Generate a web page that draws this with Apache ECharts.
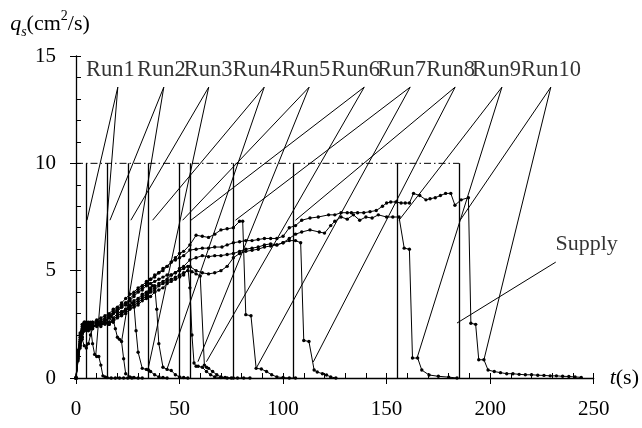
<!DOCTYPE html>
<html>
<head>
<meta charset="utf-8">
<script src="https://cdn.jsdelivr.net/npm/echarts@6/dist/echarts.min.js"></script>
<style>html,body{margin:0;padding:0;background:#fff}#c{width:642px;height:428px}</style>
</head>
<body>
<div id="c"></div>
<script>
// ---- data (t in s, qs in cm2/s) ----
const xTicks = [0, 50, 100, 150, 200, 250];
const yTicks = [0, 5, 10, 15];
const supplyRate = 10;
const supplyEnd = [5, 15, 25, 35, 50, 55, 76, 105, 155, 185];
const runNames = ['Run1','Run2','Run3','Run4','Run5','Run6','Run7','Run8','Run9','Run10'];

const run1 = [[0,0],[1,1.3],[2,2.1],[3,2.5],[4,2.6],[5,2.5],[6,2.5],[7,2.4],[8,1.6],[9,1.1],[10,1.0],[11,1.0],[12,0.6],[13,0.1],[14,0.05],[15,0.02],[17,0],[19,0],[21,0],[23,0],[25,0],[27,0]];
const run2 = [[0,0],[1,0.8],[2,1.4],[3,1.8],[4,1.5],[5,1.4],[6,1.6],[7,2.0],[8,2.3],[10,2.5],[12,2.6],[14,2.7],[16,2.8],[17,2.9],[18,2.7],[19,2.3],[20,1.9],[21,1.8],[22,1.7],[23,0.9],[24,0.2],[26,0.05],[28,0.02],[30,0],[32,0]];
const run3 = [[0,0],[1,1.0],[2,1.7],[3,2.2],[4,2.4],[5,2.3],[6,2.2],[7,2.3],[8,2.4],[10,2.5],[12,2.6],[14,2.7],[16,2.8],[18,3.0],[20,3.1],[22,3.3],[24,3.4],[26,3.6],[27,3.5],[28,3.4],[29,2.2],[30,1.2],[32,0.45],[34,0.4],[35,0.37],[36,0.3],[38,0.15],[40,0.05],[42,0.02],[44,0]];
const run4 = [[0,0],[1,0.9],[2,1.5],[3,1.9],[4,2.2],[5,2.4],[6,2.5],[7,2.4],[8,2.5],[10,2.4],[12,2.5],[14,2.6],[16,2.5],[18,2.8],[20,3.0],[22,3.1],[24,3.2],[26,3.4],[28,3.6],[30,3.7],[32,3.9],[34,4.0],[36,4.2],[37,4.3],[38,4.3],[39,3.2],[40,1.6],[42,0.5],[44,0.4],[46,0.35],[48,0.15],[50,0.05],[52,0.02],[54,0]];
const run5 = [[0,0],[1,1.1],[2,1.8],[3,2.2],[4,2.5],[5,2.6],[6,2.5],[7,2.4],[8,2.5],[10,2.6],[12,2.6],[14,2.7],[16,2.6],[18,3.0],[20,3.2],[22,3.3],[24,3.5],[26,3.6],[28,3.8],[30,4.0],[32,4.1],[34,4.3],[36,4.4],[38,4.5],[40,4.6],[42,4.7],[44,4.8],[46,4.8],[48,4.9],[50,5.0],[52,5.1],[54,5.2],[55,4.2],[56,2.0],[57,0.7],[58,0.55],[59,0.55],[61,0.5],[63,0.3],[65,0.15],[67,0.05],[70,0.02],[73,0],[76,0]];
const run6 = [[0,0],[1,1.0],[2,1.6],[3,2.1],[4,2.3],[5,2.4],[6,2.3],[7,2.4],[8,2.3],[10,2.5],[12,2.4],[14,2.6],[16,2.5],[18,2.7],[20,2.9],[22,3.0],[24,3.1],[26,3.3],[28,3.4],[30,3.5],[32,3.7],[34,3.8],[36,4.0],[38,4.1],[40,4.3],[42,4.4],[44,4.5],[46,4.6],[48,4.7],[50,4.8],[52,4.9],[54,5.0],[56,4.95],[58,4.85],[60,4.75],[62,0.6],[63,0.5],[64,0.45],[66,0.3],[68,0.15],[70,0.05],[72,0.02],[75,0],[78,0],[81,0],[84,0]];
const run7 = [[0,0],[1,1.2],[2,2.0],[3,2.4],[4,2.6],[5,2.5],[6,2.6],[7,2.5],[8,2.6],[10,2.6],[12,2.7],[14,2.8],[16,2.9],[18,3.1],[20,3.2],[22,3.4],[24,3.5],[26,3.7],[28,3.9],[30,4.1],[32,4.2],[34,4.4],[36,4.6],[38,4.7],[40,4.9],[42,5.0],[44,5.2],[46,5.4],[48,5.6],[50,5.8],[52,5.9],[55,6.2],[58,6.65],[61,6.6],[64,6.55],[67,6.7],[70,6.9],[73,6.95],[76,7.0],[79,7.3],[80.5,7.3],[82,2.95],[84.5,2.9],[87,0.45],[89.5,0.42],[92,0.3],[94.5,0.15],[97,0.05],[100,0.02],[103,0],[106,0]];
const run8 = [[0,0],[1,0.9],[2,1.5],[3,1.9],[4,2.2],[5,2.3],[6,2.4],[7,2.5],[8,2.4],[10,2.5],[12,2.5],[14,2.6],[16,2.5],[18,2.7],[20,2.9],[22,3.0],[24,3.2],[26,3.3],[28,3.5],[30,3.6],[32,3.8],[34,3.9],[36,4.1],[38,4.2],[40,4.4],[42,4.5],[44,4.6],[46,4.8],[48,4.9],[50,5.1],[52,5.2],[55,5.5],[58,5.6],[61,5.7],[64,5.65],[67,5.7],[70,5.7],[73,5.75],[76,5.8],[79,5.9],[82,6.0],[85,6.05],[88,6.1],[91,6.2],[94,6.25],[97,6.2],[100,6.3],[103,6.4],[106,6.4],[108.5,6.3],[110,1.75],[112.5,1.7],[115,0.37],[116.5,0.28],[119,0.2],[121,0.14],[123,0.05],[125.5,0]];
const run9 = [[0,0],[1,1.0],[2,1.7],[3,2.1],[4,2.4],[5,2.5],[6,2.4],[7,2.3],[8,2.4],[10,2.5],[12,2.5],[14,2.5],[16,2.6],[18,2.6],[20,2.8],[22,2.9],[24,3.0],[26,3.2],[28,3.3],[30,3.4],[32,3.6],[34,3.7],[36,3.8],[38,4.0],[40,4.1],[42,4.2],[44,4.4],[46,4.5],[48,4.6],[50,4.7],[52,4.8],[55,5.2],[58,5.0],[61,4.9],[64,4.85],[67,4.9],[70,5.0],[73,5.2],[76,5.6],[79,5.8],[82,5.9],[85,5.95],[88,6.0],[91,6.1],[94,6.15],[97,6.2],[100,6.3],[103,6.5],[106,6.7],[109,6.8],[113,6.9],[117.5,6.8],[120,6.75],[123,7.1],[125,7.3],[128,7.5],[131,7.4],[134,7.6],[137,7.35],[140,7.5],[143,7.45],[146,7.6],[150,7.5],[153,7.5],[156,7.5],[158.5,6.05],[161,6.0],[162.5,0.93],[165,0.93],[167,0.37],[170.5,0.14],[175,0.08],[180,0.04],[184,0]];
const run10 = [[0,0],[1,1.1],[2,1.9],[3,2.3],[4,2.5],[5,2.6],[6,2.5],[7,2.6],[8,2.6],[10,2.7],[12,2.8],[14,2.9],[16,3.0],[18,3.2],[20,3.3],[22,3.5],[24,3.7],[26,3.9],[28,4.0],[30,4.2],[32,4.3],[34,4.5],[36,4.6],[38,4.8],[40,4.9],[42,5.1],[44,5.2],[46,5.4],[48,5.5],[50,5.6],[52,5.7],[55,5.96],[58,6.0],[61,6.05],[64,6.05],[67,6.1],[70.5,6.1],[73,6.2],[76,6.3],[79,6.35],[82,6.4],[85,6.4],[88,6.45],[91,6.5],[94,6.5],[97,6.5],[100,6.6],[103,7.0],[106,7.1],[109,7.35],[113,7.45],[117,7.5],[122,7.6],[125,7.6],[128,7.7],[131,7.7],[133,7.7],[136,7.7],[139,7.7],[142,7.75],[145,7.8],[148,8.0],[150,8.15],[152,8.2],[154.5,8.2],[157,8.15],[159,8.15],[161,8.15],[163,8.6],[166,8.5],[169,8.3],[171,8.35],[173.5,8.4],[176,8.5],[178.5,8.6],[181,8.6],[183,8.05],[186,8.3],[189.5,8.4],[190.7,2.55],[193,2.5],[194.5,0.85],[197,0.85],[199,0.37],[202,0.3],[205,0.25],[208,0.2],[211,0.2],[214,0.17],[217,0.15],[220,0.15],[223,0.13],[226,0.12],[229,0.1],[232,0.1],[235,0.08],[238,0.07],[241,0.05],[244,0.03]];
const runs = [run1, run2, run3, run4, run5, run6, run7, run8, run9, run10];

// annotation anchors (data coordinates)
const labelT = [4.8, 29.4, 52.0, 75.6, 99.2, 123.3, 145.5, 169.1, 191.3, 214.9];
const labelQ = 14.35;
const apexT = [20.2, 42.4, 64.1, 90.9, 112.6, 139.2, 161.4, 183.1, 205.7, 229.3];
const apexQ = 13.55;
const pointSupplyT = [5.3, 16.4, 26.5, 37, 51.5, 55.5, 77, 106, 156, 185.5];
const pointSupplyQ = 7.35;
const kneeT = [9.5, 22, 34.7, 43.8, 58.9, 63, 87, 114.6, 164.7, 197];
const kneeQ = [1.0, 1.7, 0.37, 0.37, 0.76, 0.76, 0.45, 0.75, 0.93, 0.85];
const supplyLabel = ['Supply', 246.6, 6.24];
const supplyPointer = [[231.7, 5.4], [184, 2.56]];

// ---- chart ----
const FONT = "'Liberation Serif','Times New Roman',serif";
const chart = echarts.init(document.getElementById('c'), null, {renderer: 'canvas'});

const series = [];
series.push({
  type: 'line', data: [[0, supplyRate], [Math.max(...supplyEnd), supplyRate]],
  symbol: 'none', lineStyle: {color: '#000', width: 1, type: [7, 3, 1.5, 3]}, z: 2, silent: true
});
series.push({
  type: 'lines', coordinateSystem: 'cartesian2d', z: 2, silent: true,
  lineStyle: {color: '#000', width: 1.3, opacity: 1},
  data: supplyEnd.map(e => ({coords: [[e, supplyRate], [e, 0]]}))
});
runs.forEach((r, i) => {
  series.push({
    type: 'line', name: runNames[i], data: r, z: 5, silent: true,
    symbol: 'circle', symbolSize: 3.4, showSymbol: true,
    itemStyle: {color: '#000'}, lineStyle: {color: '#000', width: 1}
  });
});
const leaders = [];
runNames.forEach((n, i) => {
  leaders.push({coords: [[apexT[i], apexQ], [pointSupplyT[i], pointSupplyQ]]});
  leaders.push({coords: [[apexT[i], apexQ], [kneeT[i], kneeQ[i]]]});
});
leaders.push({coords: supplyPointer});
series.push({
  type: 'lines', coordinateSystem: 'cartesian2d', z: 3, silent: true,
  lineStyle: {color: '#000', width: 1, opacity: 1}, data: leaders
});
series.push({
  type: 'scatter', symbolSize: 0, z: 6, silent: true,
  data: runNames.map((n, i) => ({value: [labelT[i], labelQ], name: n})),
  label: {show: true, formatter: p => p.name, position: [0, 0], align: 'left', verticalAlign: 'middle',
          color: '#000', fontFamily: FONT, fontSize: 22.5}
});
series.push({
  type: 'scatter', symbolSize: 0, z: 6, silent: true,
  data: [{value: [supplyLabel[1], supplyLabel[2]], name: supplyLabel[0]}],
  label: {show: true, formatter: p => p.name, position: [0, 0], align: 'center', verticalAlign: 'middle',
          color: '#000', fontFamily: FONT, fontSize: 22}
});

const axisFont = {color: '#000', fontFamily: FONT, fontSize: 21};
chart.setOption({
  animation: false,
  backgroundColor: '#fff',
  grid: {left: 76, right: 48, top: 56, bottom: 50, containLabel: false},
  xAxis: [{
    type: 'value', min: xTicks[0], max: xTicks[xTicks.length - 1], interval: 50,
    axisLine: {lineStyle: {color: '#000', width: 1.3}},
    axisTick: {length: 6, lineStyle: {color: '#000'}},
    axisLabel: Object.assign({margin: 21}, axisFont),
    splitLine: {show: false},
    name: '{i|t}{n|(s)}', nameLocation: 'end', nameGap: 16,
    nameTextStyle: {rich: {i: {fontStyle: 'italic', fontFamily: FONT, fontSize: 22, color: '#000'},
                           n: {fontFamily: FONT, fontSize: 22, color: '#000'}}}
  }, {
    type: 'value', min: 0, max: 250, interval: 10, position: 'bottom',
    axisLine: {show: false}, axisTick: {inside: true, length: 5, lineStyle: {color: '#000'}},
    axisLabel: {show: false}, splitLine: {show: false}
  }],
  yAxis: [{
    type: 'value', min: yTicks[0], max: yTicks[yTicks.length - 1], interval: 5,
    axisLine: {show: true, lineStyle: {color: '#000', width: 1.3}},
    axisTick: {show: true, length: 6, lineStyle: {color: '#000'}},
    axisLabel: Object.assign({margin: 20}, axisFont),
    splitLine: {show: false},
    name: '{i|q}{sub|s}{n|(cm}{sup|2}{n|/s)}', nameLocation: 'end', nameGap: 17,
    nameTextStyle: {align: 'center', padding: [0, 52, 0, 0], rich: {
      i: {fontStyle: 'italic', fontFamily: FONT, fontSize: 22, color: '#000', lineHeight: 24},
      sub: {fontStyle: 'italic', fontFamily: FONT, fontSize: 14, color: '#000', verticalAlign: 'bottom', lineHeight: 18},
      sup: {fontFamily: FONT, fontSize: 14, color: '#000', verticalAlign: 'top', lineHeight: 30},
      n: {fontFamily: FONT, fontSize: 22, color: '#000', lineHeight: 24}
    }}
  }, {
    type: 'value', min: 0, max: 15, interval: 1, position: 'left',
    axisLine: {show: false}, axisTick: {show: true, inside: true, length: 5, lineStyle: {color: '#000'}},
    axisLabel: {show: false}, splitLine: {show: false}
  }],
  series: series
});
</script>
</body>
</html>
